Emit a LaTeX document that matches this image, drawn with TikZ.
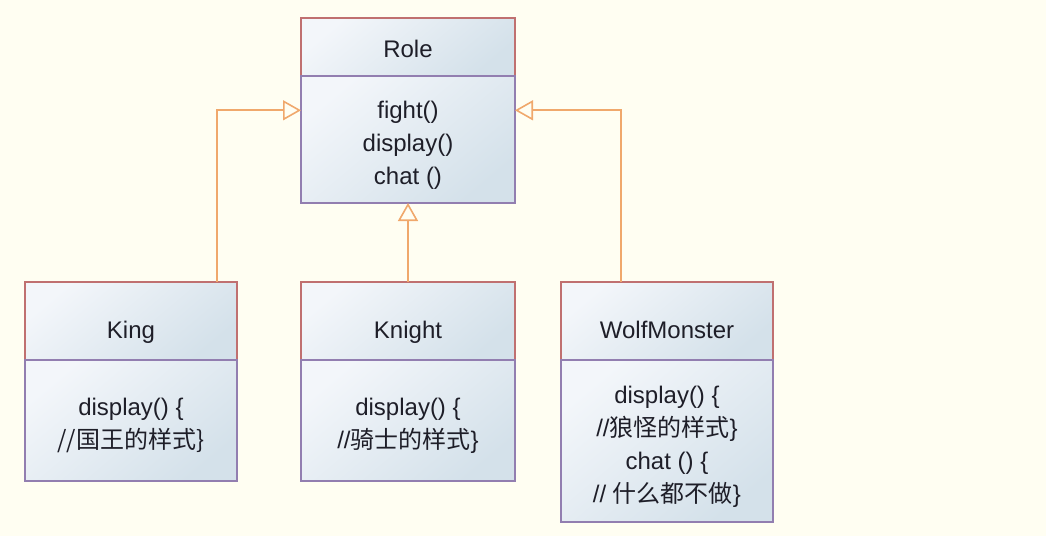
\documentclass[tikz,border=0pt]{standalone}
\usepackage{fontspec}
\setmainfont{Liberation Sans}
\newfontfamily\cjk{Noto Sans CJK SC}
\usetikzlibrary{arrows.meta,calc,positioning}

\definecolor{bgcream}{RGB}{255,254,242}
\definecolor{boxlight}{RGB}{243,246,250}
\definecolor{boxdark}{RGB}{212,225,234}
\definecolor{headred}{RGB}{192,112,112}
\definecolor{bodypurple}{RGB}{146,126,176}
\definecolor{arroworange}{RGB}{240,168,108}
\definecolor{inkdark}{RGB}{30,30,40}

\newcommand{\topstrut}{\rule{0pt}{14pt}}

\begin{document}
\begin{tikzpicture}[
  x=0.5pt, y=-0.5pt,
  font=\fontsize{12}{16.5}\selectfont,
  classbox/.style={top color=boxlight, bottom color=boxdark, shading angle=40,
    text=inkdark, align=center, inner sep=0pt, outer sep=0pt, line width=1.1pt},
  headbox/.style={classbox, draw=headred, minimum height=29pt},
  subhead/.style={headbox, minimum height=39pt, text height=17pt, text depth=0pt},
  bodybox/.style={classbox, draw=bodypurple},
  inherit/.style={draw=arroworange, line width=0.8pt,
    -{Triangle[open, length=9pt, width=10pt]}}
]

\useasboundingbox[fill=bgcream] (0,0) rectangle (1046,536);

% Base class.
\node[headbox, minimum width=107pt, text height=10pt, text depth=0pt] (roleHead) at (408,47) {Role};
\node[bodybox, minimum width=107pt, minimum height=63.5pt, below=0pt of roleHead]
  (roleBody) {\topstrut fight()\\display()\\chat ()};

% Subclasses.
\node[subhead, minimum width=106pt] (kingHead) at (131,321) {King};
\node[bodybox, minimum width=106pt, minimum height=60.5pt, below=0pt of kingHead]
  (kingBody) {\topstrut display() \{\\{\cjk //国王的样式\}}};

\node[subhead, minimum width=107pt] (knightHead) at (408,321) {Knight};
\node[bodybox, minimum width=107pt, minimum height=60.5pt, below=0pt of knightHead]
  (knightBody) {\topstrut display() \{\\//{\cjk 骑士的样式}\}};

\node[subhead, minimum width=106pt] (wolfHead) at (667,321) {WolfMonster};
\node[bodybox, minimum width=106pt, minimum height=81pt, below=0pt of wolfHead]
  (wolfBody) {\topstrut display() \{\\//{\cjk 狼怪的样式}\}\\chat () \{\\// {\cjk 什么都不做}\}};

% Generalisation arrows.
\draw[inherit] ($(kingHead.north west)!0.906!(kingHead.north east)$)
  |- ($(roleBody.north west)!0.27!(roleBody.south west)$);
\draw[inherit] (knightHead.north) -- (roleBody.south);
\draw[inherit] ($(wolfHead.north west)!0.283!(wolfHead.north east)$)
  |- ($(roleBody.north east)!0.27!(roleBody.south east)$);

\end{tikzpicture}
\end{document}
